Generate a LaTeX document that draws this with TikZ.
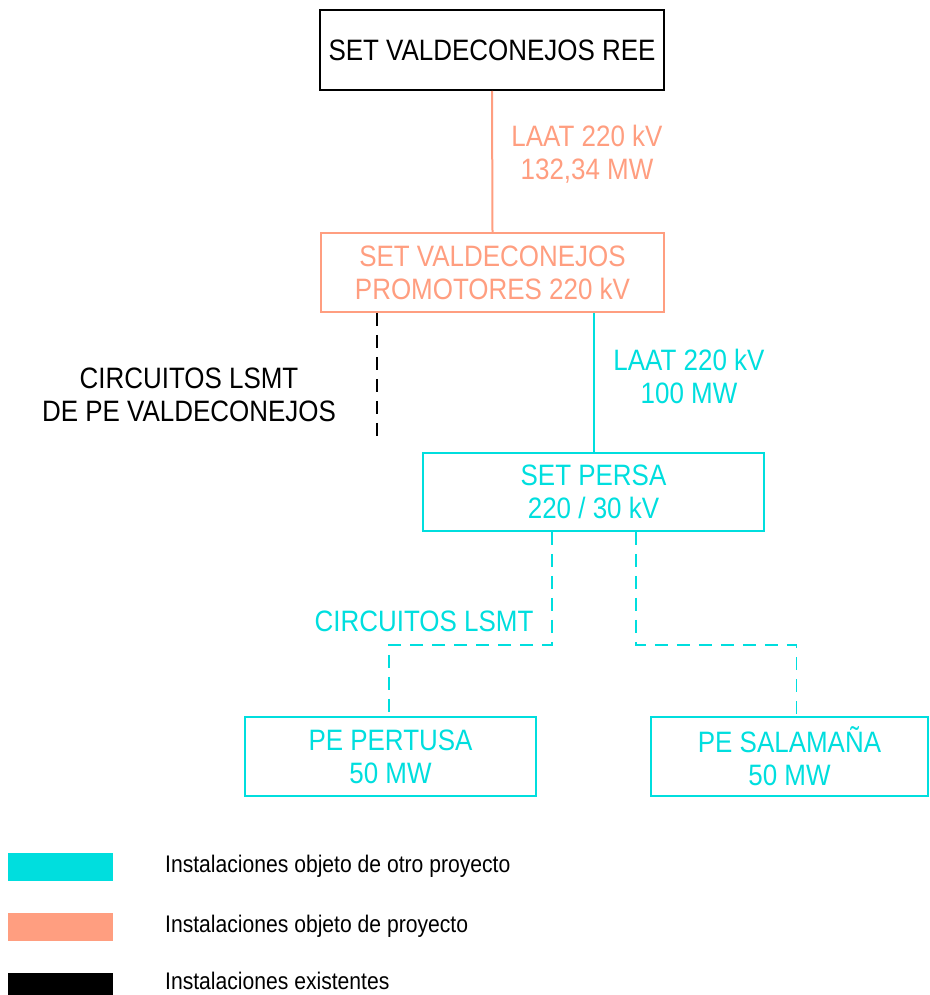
\documentclass[tikz,border=0pt]{standalone}
\usepackage{fontspec}
\setmainfont{Liberation Sans}[FakeStretch=0.88]
\usepackage{xcolor}
\usetikzlibrary{calc}
\definecolor{cian}{HTML}{00DEDE}
\definecolor{salmon}{HTML}{FF9E80}

\begin{document}
\begin{tikzpicture}[x=1pt,y=-1pt,
    caja/.style={draw,line width=1.6pt,align=center,inner sep=0pt,font=\fontsize{29.5}{33}\selectfont},
    rotulo/.style={align=center,inner sep=0pt,font=\fontsize{29.5}{33}\selectfont},
    leyenda/.style={anchor=west,inner sep=0pt,font=\fontsize{24}{28}\selectfont},
    muestra/.style={inner sep=0pt,minimum width=105pt,minimum height=28pt},
    linea/.style={line width=2pt},
    trazos/.style={line width=1.8pt,dash pattern=on 13pt off 9pt}]
  \useasboundingbox (0,0) rectangle (929,995);

  \node[caja,line width=2pt,minimum width=344pt,minimum height=80pt] (ree) at (492,50) {SET VALDECONEJOS REE};
  \node[caja,draw=salmon,text=salmon,minimum width=343pt,minimum height=79pt] (prom) at (492.5,272.5) {SET VALDECONEJOS\\PROMOTORES 220 kV};
  \node[caja,draw=cian,text=cian,minimum width=341pt,minimum height=78pt] (persa) at (593.5,492) {SET PERSA\\220 / 30 kV};
  \node[caja,draw=cian,text=cian,minimum width=291pt,minimum height=79pt] (pertusa) at (390.5,756.5) {PE PERTUSA\\50 MW};
  \node[caja,draw=cian,text=cian,minimum width=277pt,minimum height=79pt] (salam) at (789.5,756.5) {PE SALAMAÑA\\50 MW};

  % lineas
  \draw[linea,salmon] (ree.south) -- (prom.north);
  \draw[linea,cian] (persa.north) -- (persa.north |- prom.south);
  \coordinate (bt) at (377,443);
  \draw[trazos] (bt |- prom.south) -- (bt);
  \coordinate (ja) at (552,645);
  \coordinate (jb) at (636,645);
  \draw[trazos,cian] (ja |- persa.south) -- (ja) -| ([xshift=-1.5pt]pertusa.north);
  \draw[trazos,cian] (jb |- persa.south) -- (jb) -| ([xshift=7pt]salam.north);

  % rotulos
  \node[rotulo,text=salmon] (laat1) at (587,154) {LAAT 220 kV\\132,34 MW};
  \node[rotulo,text=cian] (laat2) at (689,376) {LAAT 220 kV\\100 MW};
  \node[rotulo] (lsmt1) at (189,395) {CIRCUITOS LSMT\\DE PE VALDECONEJOS};
  \node[rotulo,text=cian] (lsmt2) at (424,621) {CIRCUITOS LSMT};

  % leyenda
  \node[muestra,fill=cian] (kc) at (60.5,867) {};
  \node[muestra,fill=salmon] (ks) at (60.5,927) {};
  \node[muestra,fill=black] (kn) at (60.5,987) {};
  \node[leyenda] (tc) at (165,866) {Instalaciones objeto de otro proyecto};
  \node[leyenda] (ts) at (165,926) {Instalaciones objeto de proyecto};
  \node[leyenda] (tn) at (165,981) {Instalaciones existentes};
\end{tikzpicture}
\end{document}
